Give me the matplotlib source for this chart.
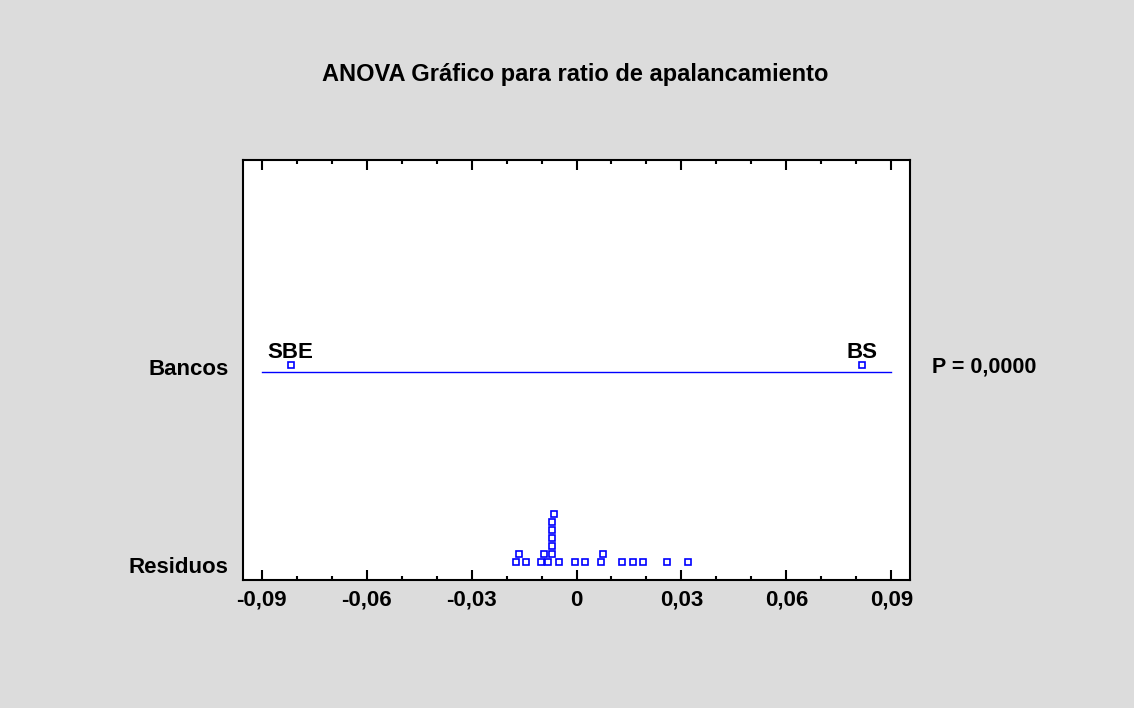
import numpy as np
import matplotlib.pyplot as plt
from matplotlib.ticker import MultipleLocator, FuncFormatter

# group means (Bancos) and residuals of the one-way ANOVA
group_names = ["SBE", "BS"]
group_means = [-0.0817, 0.0817]
residuals = [
    -0.01734, -0.01640, -0.01429, -0.01020, -0.00926, -0.00811,
    -0.00714, -0.00714, -0.00714, -0.00714, -0.00714, -0.00634,
    -0.00506, -0.00057, 0.00246, 0.00714, 0.00760, 0.01314,
    0.01617, 0.01886, 0.02580, 0.03189,
]
row_labels = ["Residuos", "Bancos"]
p_value_text = "P = 0,0000"
title = "ANOVA Gráfico para ratio de apalancamiento"
x_ticks = [-0.09, -0.06, -0.03, 0, 0.03, 0.06, 0.09]

plt.rcParams["font.family"] = ["Liberation Sans", "DejaVu Sans"]
plt.rcParams["font.weight"] = "bold"

BLUE = "#0000FF"
BG = "#DCDCDC"


def stack_levels(values, width):
    # dot-plot stacking: each point goes to the lowest free level
    placed = []
    levels = []
    for v in values:
        lvl = 0
        while any(l == lvl and abs(v - pv) < width for pv, l in placed):
            lvl += 1
        placed.append((v, lvl))
        levels.append(lvl)
    return levels


fig = plt.figure(figsize=(11.34, 7.08), dpi=100, facecolor=BG)
ax = fig.add_axes([243 / 1134, 128 / 708, 667 / 1134, 420 / 708])
ax.set_facecolor("white")

ax.set_xlim(-0.0953, 0.0953)
ax.set_ylim(-0.076, 2.045)

# residuals, stacked where they overlap
res_sorted = sorted(residuals)
levels = stack_levels(res_sorted, 0.002)
res_y = [0.015 + 0.0404 * l for l in levels]
ax.plot(res_sorted, res_y, linestyle="none", marker="s", markersize=5,
        markerfacecolor="white", markeredgecolor=BLUE, markeredgewidth=1.2,
        clip_on=False)

# group effects line
ax.plot([x_ticks[0], x_ticks[-1]], [0.975, 0.975], color=BLUE, linewidth=1)
ax.plot(group_means, [1.01] * len(group_means), linestyle="none", marker="s",
        markersize=5, markerfacecolor="white", markeredgecolor=BLUE,
        markeredgewidth=1.2)
for name, m in zip(group_names, group_means):
    ax.text(m, 1.075, name, ha="center", va="center", fontsize=16,
            fontweight="bold", color="black")

ax.text(1.033, 1.0, p_value_text, transform=ax.get_yaxis_transform(),
        ha="left", va="center", fontsize=15.5, fontweight="bold")

# axes styling
for s in ax.spines.values():
    s.set_linewidth(1.5)
    s.set_color("black")

ax.set_xticks(x_ticks)
ax.xaxis.set_minor_locator(MultipleLocator(0.01))
ax.xaxis.set_major_formatter(FuncFormatter(
    lambda v, pos: "0" if abs(v) < 1e-9 else f"{v:.2f}".replace(".", ",")))
ax.tick_params(axis="x", which="both", direction="in", top=True,
               bottom=True, width=1.5, labelsize=16, pad=7)
ax.tick_params(axis="x", which="major", length=7)
ax.tick_params(axis="x", which="minor", length=3)
ax.set_yticks([0, 1])
ax.set_yticklabels(row_labels)
ax.tick_params(axis="y", length=0, labelsize=16, pad=10.5)
for lab in ax.get_xticklabels() + ax.get_yticklabels():
    lab.set_fontweight("bold")

fig.text(575.5 / 1134, 1 - 75 / 708, title, ha="center", va="center",
         fontsize=17, fontweight="bold")

fig.savefig("out.png", dpi=100, facecolor=BG)
